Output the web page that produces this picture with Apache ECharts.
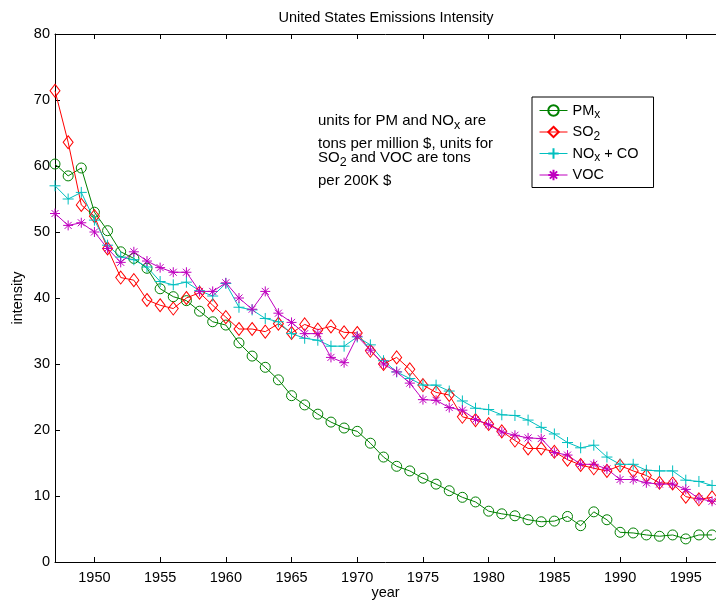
<!DOCTYPE html>
<html>
<head>
<meta charset="utf-8">
<script src="https://cdn.jsdelivr.net/npm/echarts@6/dist/echarts.min.js"></script>
<style>
html,body{margin:0;padding:0;background:#fff;}
#chart{width:716px;height:602px;}
</style>
</head>
<body>
<div id="chart"></div>
<script>
const years = [1947,1948,1949,1950,1951,1952,1953,1954,1955,1956,1957,1958,1959,1960,1961,1962,1963,1964,1965,1966,1967,1968,1969,1970,1971,1972,1973,1974,1975,1976,1977,1978,1979,1980,1981,1982,1983,1984,1985,1986,1987,1988,1989,1990,1991,1992,1993,1994,1995,1996,1997];
const pm  = [60.3,58.5,59.7,53.0,50.2,47.0,46.0,44.5,41.4,40.2,39.6,38.0,36.4,35.9,33.2,31.2,29.5,27.6,25.2,23.8,22.4,21.2,20.3,19.8,18.0,15.9,14.5,13.8,12.7,11.8,10.8,9.8,9.1,7.7,7.3,7.0,6.4,6.1,6.2,6.9,5.5,7.6,6.4,4.5,4.4,4.1,3.9,4.1,3.5,4.1,4.1];
const so2 = [71.4,63.6,54.1,52.4,47.5,43.1,42.7,39.7,38.9,38.4,40.0,40.8,38.9,37.1,35.3,35.3,34.9,36.1,34.7,36.0,35.2,35.7,34.8,34.7,32.0,30.0,31.0,29.2,26.8,25.7,25.3,22.0,21.5,20.9,19.8,18.4,17.2,17.2,16.7,15.5,14.7,14.2,13.8,14.6,13.8,13.1,12.0,11.9,9.9,9.5,9.8];
const nox = [57.0,55.0,56.0,51.8,48.0,46.2,45.8,44.7,42.5,42.0,42.4,41.1,40.3,42.2,38.6,38.2,36.9,36.4,34.6,33.9,33.6,32.7,32.7,34.1,32.9,30.5,28.8,27.8,26.8,26.8,25.9,24.4,23.3,23.1,22.3,22.2,21.5,20.4,19.4,18.1,17.3,17.7,15.9,14.8,14.8,13.9,13.8,13.8,12.4,12.2,11.6];
const voc = [52.8,51.0,51.4,50.0,47.5,45.4,47.0,45.6,44.6,43.9,43.9,41.0,41.0,42.3,40.0,38.3,41.0,37.7,36.3,34.6,34.6,31.0,30.2,34.2,32.1,30.0,28.8,27.1,24.6,24.5,23.4,23.0,21.6,20.8,19.7,19.2,18.8,18.7,16.6,16.2,14.8,14.8,14.1,12.5,12.5,12.0,11.8,11.8,11.0,9.6,9.2];
const xTicks = [1950,1955,1960,1965,1970,1975,1980,1985,1990,1995];
const yTicks = [0,10,20,30,40,50,60,70,80];

const FONT = 'Liberation Sans';
const toPairs = arr => years.map((y,i)=>[y,arr[i]]);
const richLegend = {
  sub: {fontSize: 12, fontFamily: FONT, color:'#000', padding:[9,0,0,0]},
  n: {fontSize: 14.5, fontFamily: FONT, color:'#000'}
};
const richNote = {
  sub: {fontSize: 12.5, fontFamily: FONT, color:'#000', padding:[10,0,0,0]},
  n: {fontSize: 15, fontFamily: FONT, color:'#000'}
};

const chart = echarts.init(document.getElementById('chart'));
const baseX = {
  type:'value', min:1947, max:1997.3,
  axisLine:{show:true, onZero:false, lineStyle:{color:'#000', width:1}},
  axisTick:{show:true, inside:true, length:5, customValues:xTicks, lineStyle:{color:'#000'}},
  splitLine:{show:false}
};
chart.setOption({
  animation:false,
  backgroundColor:'#fff',
  title:{text:'United States Emissions Intensity', left:386, top:10, textAlign:'center', padding:0,
    textStyle:{fontFamily:FONT, fontSize:14.5, fontWeight:'normal', color:'#000'}},
  grid:{left:55, right:0, top:34, bottom:40, containLabel:false, outerBoundsMode:'none'},
  xAxis:[
    Object.assign({}, baseX, {position:'bottom', name:'year', nameLocation:'middle', nameGap:23,
      nameMoveOverlap:false,
      nameTextStyle:{fontFamily:FONT, fontSize:14.5, color:'#000'},
      axisLabel:{show:true, customValues:xTicks, margin:8, fontFamily:FONT, fontSize:14.5, color:'#000',
        formatter:v=>String(v)}}),
    Object.assign({}, baseX, {position:'top', axisLabel:{show:false}})
  ],
  yAxis:{type:'value', min:0, max:80, interval:10,
    name:'intensity', nameLocation:'middle', nameGap:30, nameMoveOverlap:false,
    nameTextStyle:{fontFamily:FONT, fontSize:14.5, color:'#000'},
    axisLine:{show:true, lineStyle:{color:'#000', width:1}},
    axisTick:{show:true, inside:true, length:5, lineStyle:{color:'#000'}},
    axisLabel:{fontFamily:FONT, fontSize:14.5, color:'#000', margin:5, formatter:v=>String(v)},
    splitLine:{show:false}},
  legend:{orient:'vertical', left:532, top:97, padding:[6,15,5,7], itemGap:3.5,
    backgroundColor:'#fff', borderColor:'#000', borderWidth:1, borderRadius:0,
    itemWidth:28, itemHeight:13,
    lineStyle:{width:1},
    textStyle:{fontFamily:FONT, fontSize:14.5, color:'#000', rich:richLegend},
    formatter:function(name){
      if(name==='PM') return '{n|PM}{sub|x}';
      if(name==='SO2') return '{n|SO}{sub|2}';
      if(name==='NOx') return '{n|NO}{sub|x}{n| + CO}';
      return '{n|VOC}';
    },
    data:['PM','SO2','NOx','VOC']},
  graphic:[
    {type:'text', left:318, top:113, style:{text:'{n|units for PM and NO}{sub|x}{n| are}', rich:richNote}},
    {type:'text', left:318, top:136, style:{text:'{n|tons per million $, units for}', rich:richNote}},
    {type:'text', left:318, top:150, style:{text:'{n|SO}{sub|2}{n| and VOC are tons}', rich:richNote}},
    {type:'text', left:318, top:173, style:{text:'{n|per 200K $}', rich:richNote}}
  ],
  series:[
    {name:'PM', type:'line', data:toPairs(pm), symbol:'circle', symbolSize:10,
      lineStyle:{color:'#008000', width:1},
      itemStyle:{color:'rgba(255,255,255,0)', borderColor:'#008000', borderWidth:1}},
    {name:'SO2', type:'line', data:toPairs(so2), symbol:'diamond', symbolSize:[10,13],
      lineStyle:{color:'#ff0000', width:1},
      itemStyle:{color:'rgba(255,255,255,0)', borderColor:'#ff0000', borderWidth:1}},
    {name:'NOx', type:'line', data:toPairs(nox), symbol:'path://M5,0L5,10M0,5L10,5', symbolSize:11,
      lineStyle:{color:'#00bfbf', width:1},
      itemStyle:{color:'rgba(255,255,255,0)', borderColor:'#00bfbf', borderWidth:1}},
    {name:'VOC', type:'line', data:toPairs(voc), symbol:'path://M5,0L5,10M0,5L10,5M1.5,1.5L8.5,8.5M1.5,8.5L8.5,1.5', symbolSize:10,
      lineStyle:{color:'#bf00bf', width:1},
      itemStyle:{color:'rgba(255,255,255,0)', borderColor:'#bf00bf', borderWidth:1}}
  ]
});
</script>
</body>
</html>
